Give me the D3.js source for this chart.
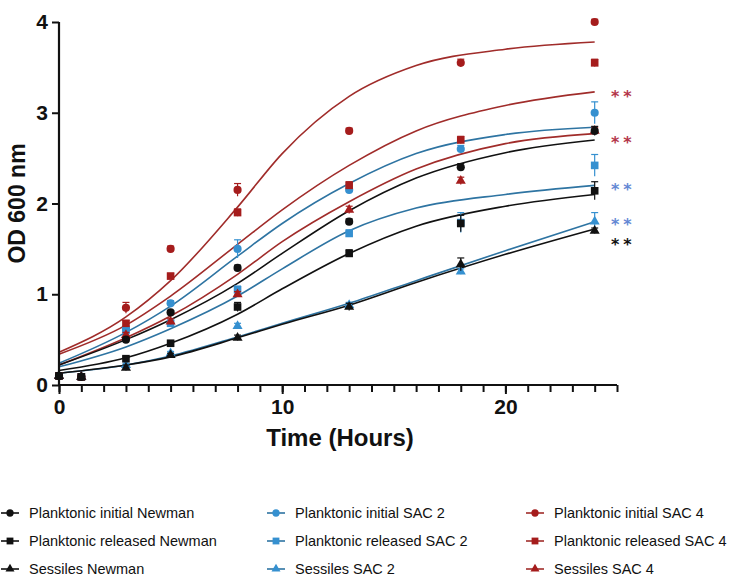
<!DOCTYPE html>
<html>
<head>
<meta charset="utf-8">
<script src="https://cdn.jsdelivr.net/npm/d3@7/dist/d3.min.js"></script>
<style>
  html, body { margin: 0; padding: 0; background: #fff; }
  svg { display: block; }
  text { font-family: "Liberation Sans", Arial, sans-serif; }
</style>
</head>
<body>
<svg id="chart" width="734" height="577"></svg>
<script>
// Sampling times (hours) for the OD600 measurements
const times = [0, 1, 3, 5, 8, 13, 18, 24];

// Mean OD600 per group
const piNewman = [0.10, 0.09, 0.50, 0.80, 1.29, 1.80, 2.40, 2.80];
const prNewman = [0.10, 0.09, 0.29, 0.46, 0.86, 1.45, 1.78, 2.14];
const sNewman  = [0.10, 0.09, 0.19, 0.33, 0.52, 0.86, 1.33, 1.70];
const piSac2   = [0.10, 0.09, 0.62, 0.90, 1.50, 2.15, 2.60, 3.00];
const prSac2   = [0.10, 0.09, 0.60, 0.68, 1.05, 1.67, 1.79, 2.42];
const sSac2    = [0.10, 0.09, 0.22, 0.35, 0.65, 0.88, 1.25, 1.80];
const piSac4   = [0.10, 0.09, 0.85, 1.50, 2.15, 2.80, 3.55, 4.00];
const prSac4   = [0.10, 0.09, 0.68, 1.20, 1.90, 2.20, 2.70, 3.55];
const sSac4    = [0.10, 0.09, 0.55, 0.70, 1.00, 1.93, 2.25, 2.80];

// Standard deviations
const errPiNewman = [0.01, 0.01, 0.02, 0.02, 0.03, 0.03, 0.04, 0.05];
const errPrNewman = [0.01, 0.01, 0.02, 0.03, 0.05, 0.04, 0.09, 0.10];
const errSNewman  = [0.01, 0.01, 0.03, 0.02, 0.03, 0.04, 0.07, 0.03];
const errPiSac2   = [0.01, 0.01, 0.03, 0.03, 0.10, 0.04, 0.04, 0.12];
const errPrSac2   = [0.01, 0.01, 0.03, 0.03, 0.04, 0.04, 0.11, 0.12];
const errSSac2    = [0.01, 0.01, 0.02, 0.02, 0.03, 0.03, 0.03, 0.10];
const errPiSac4   = [0.01, 0.01, 0.06, 0.03, 0.07, 0.03, 0.04, 0.03];
const errPrSac4   = [0.01, 0.01, 0.03, 0.03, 0.04, 0.04, 0.04, 0.04];
const errSSac4    = [0.01, 0.01, 0.03, 0.03, 0.03, 0.04, 0.04, 0.04];

// Growth-curve fits, sampled at these times
const fitTimes    = [0, 3, 5, 8, 10, 13, 16, 20, 24];
const fitPiSac4   = [0.36, 0.75, 1.15, 1.96, 2.55, 3.18, 3.52, 3.70, 3.78];
const fitPrSac4   = [0.34, 0.66, 0.98, 1.55, 1.93, 2.42, 2.80, 3.08, 3.23];
const fitPiSac2   = [0.24, 0.58, 0.87, 1.42, 1.78, 2.22, 2.55, 2.76, 2.84];
const fitSSac4    = [0.22, 0.52, 0.76, 1.22, 1.58, 2.02, 2.38, 2.66, 2.77];
const fitPiNewman = [0.22, 0.50, 0.72, 1.12, 1.45, 1.92, 2.28, 2.56, 2.70];
const fitPrSac2   = [0.20, 0.42, 0.62, 0.98, 1.28, 1.70, 1.95, 2.10, 2.20];
const fitPrNewman = [0.16, 0.30, 0.46, 0.78, 1.06, 1.45, 1.75, 1.97, 2.10];
const fitSSac2    = [0.13, 0.22, 0.32, 0.53, 0.68, 0.90, 1.15, 1.48, 1.80];
const fitSNewman  = [0.13, 0.22, 0.31, 0.52, 0.67, 0.88, 1.13, 1.44, 1.72];

// Significance marks at the right edge
const sigLevels = [3.24, 2.73, 2.22, 1.83, 1.61];
const sigLabels = ["**", "**", "**", "**", "**"];
const sigGroups = ["SAC 4", "SAC 4", "SAC 2", "SAC 2", "Newman"];

const yTicks = [0, 1, 2, 3, 4];
const xTicks = [0, 10, 20];

const colors = { "Newman": "#111111", "SAC 2": "#3590d0", "SAC 4": "#a51c1c" };
const lineColors = { "Newman": "#111111", "SAC 2": "#2e74a2", "SAC 4": "#a02c2a" };
const starColors = { "Newman": "#111111", "SAC 2": "#6488d4", "SAC 4": "#b4364a" };

const series = [
  { name: "Planktonic initial Newman",  strain: "Newman", shape: "circle",   y: piNewman, err: errPiNewman, fit: fitPiNewman },
  { name: "Planktonic released Newman", strain: "Newman", shape: "square",   y: prNewman, err: errPrNewman, fit: fitPrNewman },
  { name: "Sessiles Newman",            strain: "Newman", shape: "triangle", y: sNewman,  err: errSNewman,  fit: fitSNewman },
  { name: "Planktonic initial SAC 2",   strain: "SAC 2",  shape: "circle",   y: piSac2,   err: errPiSac2,   fit: fitPiSac2 },
  { name: "Planktonic released SAC 2",  strain: "SAC 2",  shape: "square",   y: prSac2,   err: errPrSac2,   fit: fitPrSac2 },
  { name: "Sessiles SAC 2",             strain: "SAC 2",  shape: "triangle", y: sSac2,    err: errSSac2,    fit: fitSSac2 },
  { name: "Planktonic initial SAC 4",   strain: "SAC 4",  shape: "circle",   y: piSac4,   err: errPiSac4,   fit: fitPiSac4 },
  { name: "Planktonic released SAC 4",  strain: "SAC 4",  shape: "square",   y: prSac4,   err: errPrSac4,   fit: fitPrSac4 },
  { name: "Sessiles SAC 4",             strain: "SAC 4",  shape: "triangle", y: sSac4,    err: errSSac4,    fit: fitSSac4 }
];

const svg = d3.select("#chart");

const x = d3.scaleLinear().domain([0, 25]).range([59, 617]);
const y = d3.scaleLinear().domain([0, 4]).range([385, 22]);

const symbolType = { circle: d3.symbolCircle, square: d3.symbolSquare, triangle: d3.symbolTriangle };
const symbolSize = { circle: 52, square: 58, triangle: 44 };

// Fitted curves
const line = d3.line()
  .x(d => x(d[0]))
  .y(d => y(d[1]))
  .curve(d3.curveMonotoneX);

const drawOrder = [5, 4, 3, 8, 7, 6, 2, 1, 0];

const curves = svg.append("g");
drawOrder.forEach(i => {
  const s = series[i];
  curves.append("path")
    .datum(fitTimes.map((t, k) => [t, s.fit[k]]))
    .attr("fill", "none")
    .attr("stroke", lineColors[s.strain])
    .attr("stroke-width", 1.6)
    .attr("d", line);
});

// Error bars and points
const pts = svg.append("g");
drawOrder.forEach(i => {
  const s = series[i];
  const c = colors[s.strain];
  const g = pts.append("g");
  times.forEach((t, k) => {
    const e = s.err[k];
    if (e > 0.015) {
      g.append("line")
        .attr("x1", x(t)).attr("x2", x(t))
        .attr("y1", y(s.y[k] + e)).attr("y2", y(s.y[k] - e))
        .attr("stroke", c).attr("stroke-width", 1.2);
      g.append("line")
        .attr("x1", x(t) - 3.5).attr("x2", x(t) + 3.5)
        .attr("y1", y(s.y[k] + e)).attr("y2", y(s.y[k] + e))
        .attr("stroke", c).attr("stroke-width", 1.2);
    }
  });
  g.selectAll("path")
    .data(times.map((t, k) => [t, s.y[k]]))
    .join("path")
    .attr("transform", d => `translate(${x(d[0])},${y(d[1])})`)
    .attr("d", d3.symbol().type(symbolType[s.shape]).size(symbolSize[s.shape]))
    .attr("fill", c);
});

// Axes
const yAxis = svg.append("g")
  .attr("transform", `translate(${x(0)},0)`)
  .call(d3.axisLeft(y).tickValues(yTicks).tickFormat(d3.format("d")).tickSize(7).tickPadding(4));

const xMinor = svg.append("g")
  .attr("transform", `translate(0,${y(0)})`)
  .call(d3.axisBottom(x).tickValues(d3.range(0, 26, 1)).tickFormat("").tickSize(7));

const xAxis = svg.append("g")
  .attr("transform", `translate(0,${y(0)})`)
  .call(d3.axisBottom(x).tickValues(xTicks).tickFormat(d3.format("d")).tickSize(9).tickPadding(5));

[yAxis, xAxis, xMinor].forEach(a => {
  a.select(".domain").attr("stroke", "#111").attr("stroke-width", 2.2);
  a.selectAll(".tick line").attr("stroke", "#111").attr("stroke-width", 2);
  a.selectAll("text")
    .attr("fill", "#111")
    .style("font-size", "21px")
    .style("font-weight", "bold")
    .style("font-family", "'Liberation Sans', Arial, sans-serif");
});
xMinor.select(".domain").attr("d", `M${x(0)},0H${x(25)}`);
xAxis.select(".domain").attr("d", `M${x(0)},0H${x(25)}`);
yAxis.select(".domain").attr("d", `M0,${y(4)}V${y(0)}`);

// Axis titles
svg.append("text")
  .attr("transform", `translate(25,${(y(0) + y(4)) / 2}) rotate(-90)`)
  .attr("text-anchor", "middle")
  .style("font-size", "23px")
  .style("font-weight", "bold")
  .attr("fill", "#111")
  .text("OD 600 nm");

svg.append("text")
  .attr("x", 340)
  .attr("y", 446)
  .attr("text-anchor", "middle")
  .style("font-size", "24px")
  .style("font-weight", "bold")
  .attr("fill", "#111")
  .text("Time (Hours)");

// Significance asterisks
svg.append("g").selectAll("text")
  .data(sigLevels.map((v, i) => ({ v, label: sigLabels[i], g: sigGroups[i] })))
  .join("text")
  .attr("x", 611)
  .attr("y", d => y(d.v) + 11)
  .style("font-size", "16px")
  .style("font-weight", "bold")
  .style("font-family", "'DejaVu Sans', sans-serif")
  .style("letter-spacing", "4px")
  .attr("fill", d => starColors[d.g])
  .text(d => d.label);

// Legend
const legendCols = [10, 276, 535];
const legendRows = [513, 541, 569];
const legend = svg.append("g");
series.forEach((s, i) => {
  const cx = legendCols[Math.floor(i / 3)];
  const cy = legendRows[i % 3];
  const c = colors[s.strain];
  const lg = legend.append("g").attr("transform", `translate(${cx},${cy})`);
  lg.append("line").attr("x1", -9).attr("x2", 9).attr("y1", 0).attr("y2", 0)
    .attr("stroke", lineColors[s.strain]).attr("stroke-width", 1.6);
  lg.append("path")
    .attr("d", d3.symbol().type(symbolType[s.shape]).size(symbolSize[s.shape] * 0.8))
    .attr("fill", c);
  lg.append("text")
    .attr("x", 19)
    .attr("y", 5)
    .style("font-size", "14.5px")
    .attr("fill", "#111")
    .text(s.name);
});
</script>
</body>
</html>
